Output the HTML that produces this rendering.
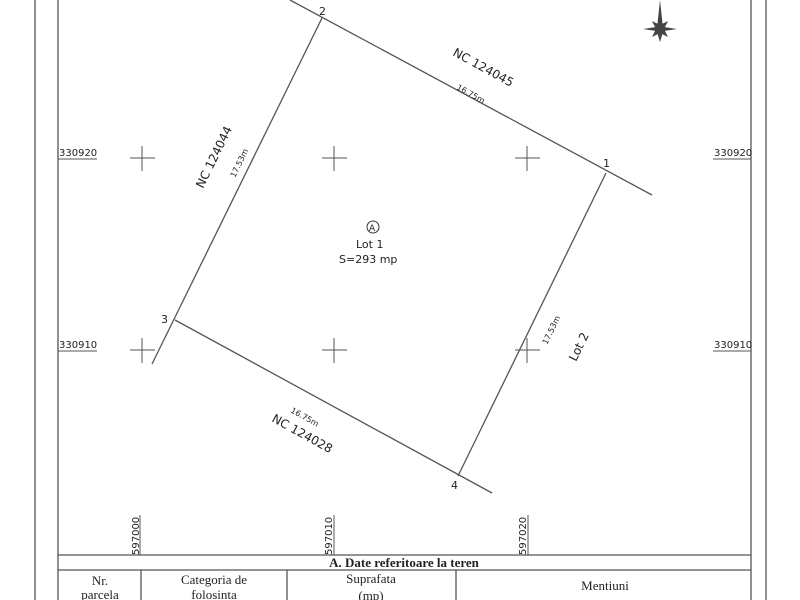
<!DOCTYPE html>
<html><head><meta charset="utf-8"><style>
html,body{margin:0;padding:0;background:#fff;}
svg{display:block;}
text{font-family:"DejaVu Sans","Liberation Sans",sans-serif;fill:#222;}
.s{font-family:"Liberation Serif",serif;}
</style></head><body>
<svg width="800" height="600" viewBox="0 0 800 600" xmlns="http://www.w3.org/2000/svg">
<g stroke="#555" stroke-width="1.3" fill="none">
<line x1="35" y1="0" x2="35" y2="600"/>
<line x1="58" y1="0" x2="58" y2="600"/>
<line x1="751" y1="0" x2="751" y2="600"/>
<line x1="766" y1="0" x2="766" y2="600"/>
<line x1="290" y1="0" x2="652" y2="195"/>
<line x1="322" y1="18" x2="152" y2="364"/>
<line x1="175" y1="320" x2="492" y2="493"/>
<line x1="606" y1="173" x2="458" y2="476"/>
<g stroke-width="1">
<path d="M130 158h25M142 146v25M322 158h25M334 146v25M515 158h25M527 146v25"/>
<path d="M130 350h25M142 338v25M322 350h25M334 338v25M515 350h25M527 338v25"/>
</g>
<line x1="58" y1="159" x2="97" y2="159" stroke-width="1"/>
<line x1="58" y1="351" x2="97" y2="351" stroke-width="1"/>
<line x1="713" y1="159" x2="751" y2="159" stroke-width="1"/>
<line x1="713" y1="351" x2="751" y2="351" stroke-width="1"/>
<line x1="140" y1="515" x2="140" y2="555" stroke-width="1"/>
<line x1="334" y1="515" x2="334" y2="555" stroke-width="1"/>
<line x1="528" y1="515" x2="528" y2="555" stroke-width="1"/>
<line x1="58" y1="555" x2="751" y2="555"/>
<line x1="58" y1="570" x2="751" y2="570"/>
<line x1="141" y1="570" x2="141" y2="600"/>
<line x1="287" y1="570" x2="287" y2="600"/>
<line x1="456" y1="570" x2="456" y2="600"/>
<circle cx="373" cy="227" r="6" stroke="#333" stroke-width="1"/>
</g>
<g fill="#444">
<polygon points="660,0 663,28 660,42 657,28"/>
<polygon points="643,29 656,27 660,29 656,31"/>
<polygon points="677,29 664,27 660,29 664,31"/>
<polygon points="660,42 657,32 663,32"/>
<polygon points="652,21 660,25 668,21 664,29 668,37 660,33 652,37 656,29"/>
</g>
<g font-size="10">
<text x="59" y="156">330920</text>
<text x="59" y="348">330910</text>
<text x="714" y="156">330920</text>
<text x="714" y="348">330910</text>
<text transform="translate(139,555) rotate(-90)">597000</text>
<text transform="translate(332,555) rotate(-90)">597010</text>
<text transform="translate(526,555) rotate(-90)">597020</text>
</g>
<g font-size="11">
<text x="319" y="15">2</text>
<text x="603" y="167">1</text>
<text x="161" y="323">3</text>
<text x="451" y="489">4</text>
<text x="369" y="231" font-size="9">A</text>
<text x="356" y="248">Lot 1</text>
<text x="339" y="263">S=293 mp</text>
<text transform="translate(452,55) rotate(28.6)" font-size="12">NC 124045</text>
<text transform="translate(456,89) rotate(28.6)" font-size="8">16.75m</text>
<text transform="translate(203,189) rotate(-64)" font-size="12">NC 124044</text>
<text transform="translate(235,178) rotate(-64)" font-size="8">17.53m</text>
<text transform="translate(290,412) rotate(28.9)" font-size="8">16.75m</text>
<text transform="translate(271,421) rotate(28.9)" font-size="12">NC 124028</text>
<text transform="translate(547,345) rotate(-64)" font-size="8">17.53m</text>
<text transform="translate(576,362) rotate(-64)" font-size="12">Lot 2</text>
</g>
<g font-size="13">
<text x="404" y="567" text-anchor="middle" font-weight="bold" class="s">A. Date referitoare la teren</text>
<text x="100" y="585" text-anchor="middle" class="s">Nr.</text>
<text x="100" y="599" text-anchor="middle" class="s">parcela</text>
<text x="214" y="584" text-anchor="middle" class="s">Categoria de</text>
<text x="214" y="599" text-anchor="middle" class="s">folosinta</text>
<text x="371" y="583" text-anchor="middle" class="s">Suprafata</text>
<text x="371" y="600" text-anchor="middle" class="s">(mp)</text>
<text x="605" y="590" text-anchor="middle" class="s">Mentiuni</text>
</g>
</svg>
</body></html>
